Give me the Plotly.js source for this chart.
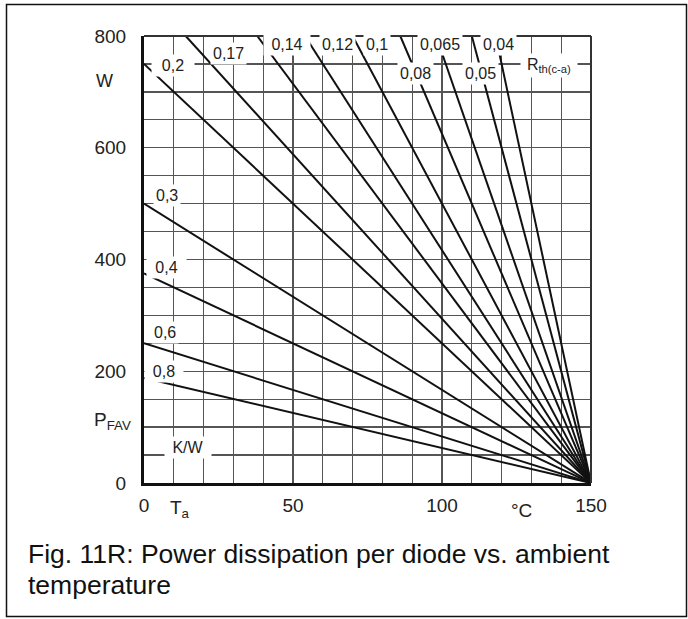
<!DOCTYPE html>
<html><head><meta charset="utf-8">
<script src="https://cdn.plot.ly/plotly-3.0.1.min.js"></script>
<style>html,body{margin:0;padding:0;background:#fff}#chart{width:688px;height:619px}</style>
</head><body><div id="chart"></div>
<script>
// Thermal resistance curves: each line runs from a start point to (150 °C, 0 W)
const rthLabels = ['0,8','0,6','0,4','0,3','0,2','0,17','0,14','0,12','0,1','0,08','0,065','0,05','0,04'];
const startTa   = [0, 0, 0, 0, 0, 14, 38, 54, 70, 86, 98, 110, 118];
const startP    = [188, 250, 375, 500, 750, 800, 800, 800, 800, 800, 800, 800, 800];
const endTa     = [150, 150, 150, 150, 150, 150, 150, 150, 150, 150, 150, 150, 150];
const endP      = [0, 0, 0, 0, 0, 0, 0, 0, 0, 0, 0, 0, 0];
const xTickVals = [0, 50, 100, 150];
const yTickVals = [0, 200, 400, 600, 800];

// label positions (pixel centres) for the curve labels
const labelPx = [[164,371],[165,332],[166,267],[167,196],[173,65],[228,53],[287,45],[337,45],[377,45],[415,74],[440,45],[480,74],[498,45]];
const labelW  = [34, 0, 35, 0, 38, 0, 42, 0, 0, 0, 0, 0, 0];

const L = 144, T = 36, W = 447, H = 447;
const px = v => (v - L) / W;
const py = v => (T + H - v) / H;
const FONT = 'Liberation Sans, Arial, Helvetica, sans-serif';

const traces = rthLabels.map((lab, i) => ({
  type: 'scatter', mode: 'lines', name: lab,
  x: [startTa[i], endTa[i]], y: [startP[i], endP[i]],
  line: {color: '#111', width: 2}, hoverinfo: 'skip'
}));

const ann = [];
rthLabels.forEach((lab, i) => {
  const a = {text: lab, xref: 'paper', yref: 'paper', x: px(labelPx[i][0]), y: py(labelPx[i][1]),
    xanchor: 'center', yanchor: 'middle',
    showarrow: false, bgcolor: '#fff', borderpad: 2, font: {family: FONT, size: 16, color: '#222'}};
  if (labelW[i]) a.width = labelW[i];
  ann.push(a);
});
const extra = [
  {text: 'R<sub>th(c-a)</sub>', x: 549, y: 65, size: 16, bg: '#fff', w: 52},
  {text: 'K/W', x: 188, y: 447, size: 16, bg: '#fff', w: 42},
  {text: 'W', x: 104, y: 81, size: 18},
  {text: 'P<sub>FAV</sub>', x: 112, y: 421, size: 19},
  {text: 'T<sub>a</sub>', x: 180, y: 509, size: 19},
  {text: '°C', x: 521, y: 510, size: 19}
];
extra.forEach(e => {
  const a = {text: e.text, xref: 'paper', yref: 'paper', x: px(e.x), y: py(e.y), showarrow: false,
    xanchor: 'center', yanchor: 'middle',
    font: {family: FONT, size: e.size, color: '#222'}};
  if (e.bg) { a.bgcolor = e.bg; a.borderpad = 2; }
  if (e.w) a.width = e.w;
  ann.push(a);
});
ann.push({text: 'Fig. 11R: Power dissipation per diode vs. ambient', xref: 'paper', yref: 'paper',
  x: px(26), y: py(554), xanchor: 'left', yanchor: 'middle', showarrow: false,
  font: {family: FONT, size: 26.5, color: '#111'}});
ann.push({text: 'temperature', xref: 'paper', yref: 'paper',
  x: px(26), y: py(585), xanchor: 'left', yanchor: 'middle', showarrow: false,
  font: {family: FONT, size: 26.5, color: '#111'}});

const gridStyle = {gridcolor: '#555', gridwidth: 1.3};
const layout = {
  width: 688, height: 619,
  margin: {l: L, r: 688 - L - W, t: T, b: 619 - T - H},
  paper_bgcolor: '#fff', plot_bgcolor: '#fff', showlegend: false,
  xaxis: {range: [0, 150], tickvals: xTickVals, ticktext: xTickVals.map(String), ticks: '',
    showgrid: true, ...gridStyle, minor: {dtick: 10, tick0: 0, showgrid: true, ...gridStyle},
    zeroline: false, showline: true, linecolor: '#111', linewidth: 3,
    tickfont: {family: FONT, size: 19, color: '#222'}, ticklabelstandoff: 3, fixedrange: true},
  yaxis: {range: [0, 800], tickvals: yTickVals, ticktext: yTickVals.map(String), ticks: '',
    showgrid: true, ...gridStyle, minor: {dtick: 50, tick0: 0, showgrid: true, ...gridStyle},
    zeroline: false, showline: true, linecolor: '#111', linewidth: 3,
    tickfont: {family: FONT, size: 19, color: '#222'}, ticklabelstandoff: 11, fixedrange: true},
  shapes: [
    {type: 'line', xref: 'paper', yref: 'paper', x0: 0, x1: 1, y0: 1, y1: 1, line: {color: '#333', width: 2}},
    {type: 'line', xref: 'paper', yref: 'paper', x0: 1, x1: 1, y0: 0, y1: 1, line: {color: '#333', width: 2}},
    {type: 'rect', xref: 'paper', yref: 'paper', x0: px(6.5), x1: px(686.5), y0: py(616.5), y1: py(4.5),
      line: {color: '#111', width: 1.5}, fillcolor: 'rgba(0,0,0,0)'}
  ],
  annotations: ann
};
Plotly.newPlot('chart', traces, layout, {staticPlot: true, displayModeBar: false});
</script>
</body></html>
